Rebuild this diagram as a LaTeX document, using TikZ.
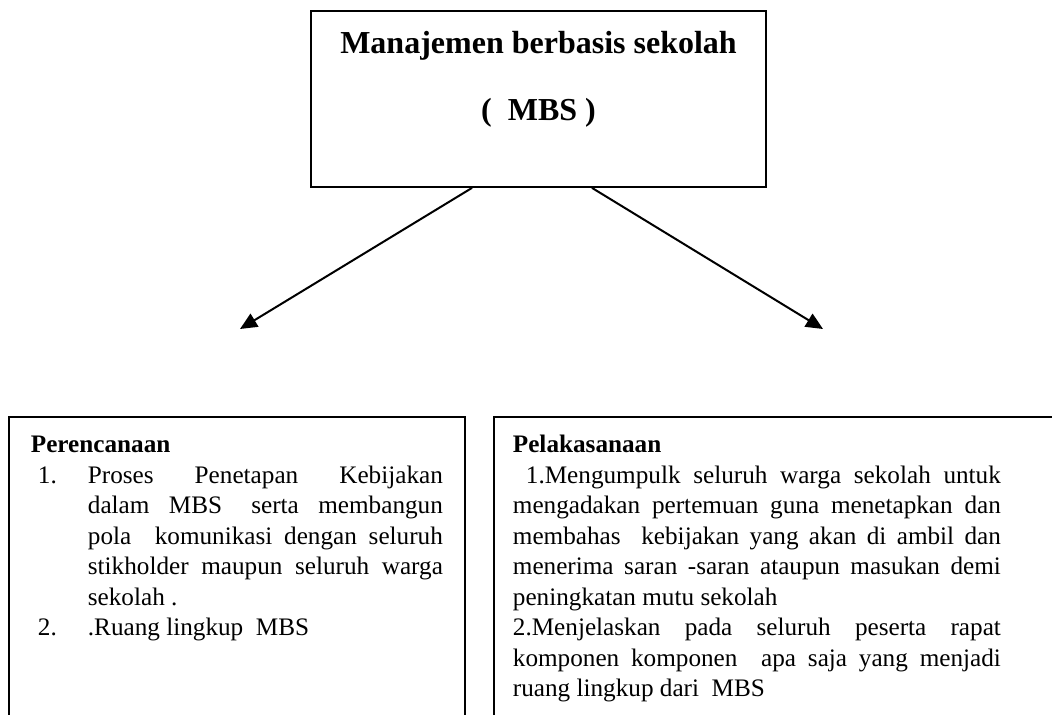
\documentclass[tikz,border=0pt]{standalone}
\usepackage{fontspec}
\setmainfont{Liberation Serif}
\usetikzlibrary{arrows.meta}
\hbadness=10000

\begin{document}
\begin{tikzpicture}[x=0.5pt, y=-0.5pt,
  box/.style={draw, line width=0.9pt, rectangle},
  listbox/.style={box, anchor=north west, inner ysep=7.3pt,
    font=\fontsize{12.6pt}{15.25pt}\selectfont},
  link/.style={line width=1pt, -{Triangle[length=8.5pt, width=7.5pt]}}]

  \useasboundingbox (0,0) rectangle (1052,715);

  \node[box, minimum width=227.5pt, minimum height=88pt, inner sep=0pt, align=center,
        font=\fontsize{16pt}{33.5pt}\selectfont\bfseries] (mbs) at (538.5,99)
    {Manajemen berbasis sekolah\\(~ MBS )\rule[-23.4pt]{0pt}{23.4pt}};

  \coordinate (leftTip) at (240,329);
  \coordinate (rightTip) at (823,329);

  \draw[link] ([xshift=-33.25pt]mbs.south) -- (leftTip);
  \draw[link] ([xshift=26.75pt]mbs.south) -- (rightTip);

  \node[listbox, inner xsep=11pt] (perencanaan) at (8,416)
    {\parbox[t]{206pt}{\textbf{Perencanaan}\strut\par
      \leftskip=28.5pt
      \noindent\llap{\makebox[25pt][l]{1.}}Proses Penetapan Kebijakan\linebreak
      dalam~ MBS~ ~serta~ membangun\linebreak
      pola~ komunikasi dengan seluruh\linebreak
      stikholder maupun seluruh warga\linebreak
      sekolah .\par
      \noindent\llap{\makebox[25pt][l]{2.}}.Ruang lingkup~ MBS\rule[-60pt]{0pt}{60pt}}};

  \node[listbox, inner xsep=9.5pt] (pelaksanaan) at (493,416)
    {\parbox[t]{244pt}{\textbf{Pelakasanaan}\strut\par
      \hspace*{6.5pt}1.Mengumpulk seluruh warga sekolah untuk\linebreak
      mengadakan pertemuan guna menetapkan dan\linebreak
      membahas~ kebijakan yang akan di ambil dan\linebreak
      menerima saran -saran ataupun masukan demi\linebreak
      peningkatan mutu sekolah\par
      2.Menjelaskan pada seluruh peserta rapat\linebreak
      komponen komponen~ apa saja yang menjadi\linebreak
      ruang lingkup dari~ MBS\rule[-60pt]{0pt}{60pt}}\hspace*{40pt}};

\end{tikzpicture}
\end{document}
